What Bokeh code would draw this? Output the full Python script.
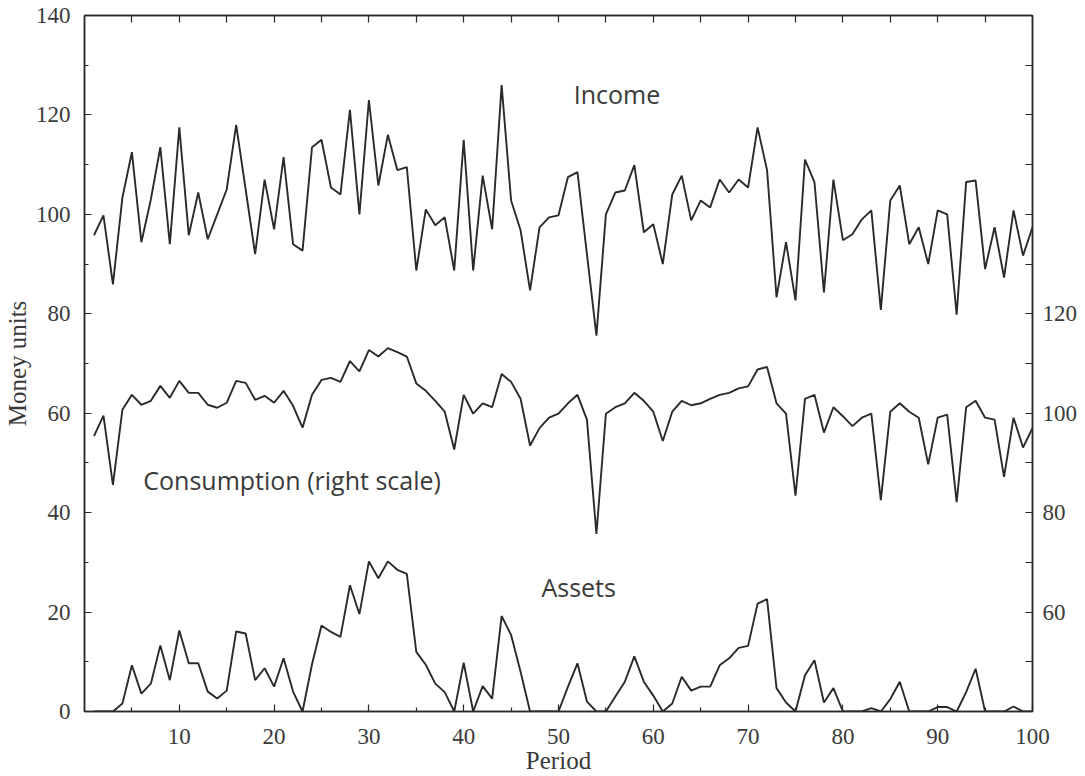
from bokeh.plotting import figure
from bokeh.models import Range1d, LinearAxis, FixedTicker, Label
from bokeh.embed import file_html
from bokeh.resources import INLINE

periods = list(range(1, 101))

income = [95.8, 99.8, 85.9, 103.4, 112.5, 94.4, 103.0, 113.5, 94.0, 117.5,
          95.8, 104.4, 95.0, 100.0, 105.0, 118.0, 105.0, 92.0, 107.0, 97.0,
          111.5, 94.0, 92.7, 113.5, 115.0, 105.4, 104.0, 121.0, 100.0, 123.0,
          105.8, 116.0, 108.9, 109.5, 88.7, 101.0, 97.8, 99.4, 88.7, 115.0,
          88.7, 107.8, 97.0, 126.0, 102.8, 96.8, 84.7, 97.4, 99.4, 99.8,
          107.5, 108.5, 92.0, 75.6, 100.0, 104.4, 104.8, 109.9, 96.4, 98.0,
          90.0, 104.0, 107.8, 98.8, 102.8, 101.4, 107.0, 104.4, 107.0, 105.4,
          117.5, 108.9, 83.3, 94.4, 82.7, 111.0, 106.5, 84.3, 107.0, 94.8,
          96.0, 99.0, 100.8, 80.8, 102.8, 105.8, 94.0, 97.4, 90.0, 100.8,
          100.0, 79.8, 106.5, 106.8, 89.0, 97.4, 87.3, 100.8, 91.7, 97.4]

# consumption on the right-hand scale
consumption = [95.4, 99.5, 85.6, 100.7, 103.7, 101.7, 102.5, 105.5, 103.1, 106.5,
               104.1, 104.1, 101.7, 101.1, 102.1, 106.5, 106.1, 102.7, 103.5, 102.1,
               104.5, 101.5, 97.1, 103.7, 106.7, 107.1, 106.3, 110.5, 108.4, 112.7,
               111.4, 113.1, 112.3, 111.4, 106.0, 104.5, 102.5, 100.3, 92.7, 103.7,
               99.9, 102.0, 101.2, 107.9, 106.3, 102.9, 93.5, 97.0, 99.1, 99.9,
               102.0, 103.7, 98.7, 75.7, 99.9, 101.2, 102.0, 104.1, 102.5, 100.3,
               94.4, 100.3, 102.5, 101.6, 102.0, 102.9, 103.7, 104.1, 105.0, 105.4,
               108.8, 109.3, 102.0, 99.9, 83.4, 102.9, 103.7, 96.1, 101.2, 99.4,
               97.4, 99.1, 99.9, 82.5, 100.3, 102.0, 100.3, 99.1, 89.7, 99.1,
               99.7, 82.1, 101.2, 102.5, 99.1, 98.7, 87.2, 99.1, 93.1, 97.0]

assets = [0, 0, 0, 1.6, 9.3, 3.6, 5.6, 13.3, 6.3, 16.3,
          9.7, 9.7, 4.0, 2.6, 4.2, 16.1, 15.7, 6.3, 8.7, 5.0,
          10.7, 4.0, 0, 9.5, 17.3, 16.0, 15.0, 25.4, 19.6, 30.2,
          26.8, 30.2, 28.5, 27.7, 12.0, 9.4, 5.6, 3.9, 0, 9.8,
          0, 5.1, 2.6, 19.2, 15.4, 8.0, 0, 0, 0, 0,
          5.0, 9.7, 2.0, 0, 0, 3.0, 6.0, 11.1, 6.0, 3.2,
          0, 1.6, 7.0, 4.2, 5.0, 5.0, 9.3, 10.7, 12.8, 13.2,
          21.7, 22.6, 4.7, 1.8, 0, 7.3, 10.3, 1.8, 4.7, 0,
          0, 0, 0.7, 0, 2.5, 6.0, 0, 0, 0, 0.9,
          0.9, 0, 3.9, 8.6, 0, 0, 0, 1.0, 0, 0]

x_ticks = [10, 20, 30, 40, 50, 60, 70, 80, 90, 100]
x_minor = [5, 15, 25, 35, 45, 55, 65, 75, 85, 95]
top_ticks = [5, 10, 15, 20, 25, 30, 35, 40, 45, 50, 55, 60, 65, 70, 75, 80, 85, 90, 95]
left_ticks = [0, 20, 40, 60, 80, 100, 120, 140]
left_minor = [10, 30, 50, 70, 90, 110, 130]
right_ticks = [50, 60, 70, 80, 90, 100, 110, 120, 130, 140, 150, 160, 170]
right_labels = [60, 80, 100, 120]

INK = "#2a2a2a"
TXT = "#3a3a3a"
SERIF = "Liberation Serif"

p = figure(frame_width=948, frame_height=696,
           x_range=Range1d(0, 100), y_range=Range1d(0, 140),
           output_backend="svg", toolbar_location=None,
           min_border_left=84, min_border_right=48,
           min_border_top=15, min_border_bottom=40)
p.extra_y_ranges = {"right": Range1d(40, 180)}
p.grid.visible = False
p.outline_line_color = INK
p.outline_line_width = 1.5
p.outline_line_alpha = 1.0


def style_axis(ax):
    ax.axis_line_color = INK
    ax.axis_line_width = 1.5
    ax.axis_line_alpha = 1.0
    ax.major_tick_line_color = INK
    ax.major_tick_line_width = 1.2
    ax.minor_tick_line_color = INK
    ax.minor_tick_line_width = 1.2
    ax.major_tick_in = 7
    ax.major_tick_out = 0
    ax.minor_tick_in = 4
    ax.minor_tick_out = 0
    ax.major_label_text_font = SERIF
    ax.major_label_text_font_size = "23px"
    ax.major_label_text_color = TXT
    ax.axis_label_text_font = SERIF
    ax.axis_label_text_font_style = "normal"
    ax.axis_label_text_font_size = "25px"
    ax.axis_label_text_color = TXT


xa = p.xaxis[0]
style_axis(xa)
xa.ticker = FixedTicker(ticks=x_ticks, minor_ticks=x_minor)
xa.axis_label = "Period"
xa.major_label_standoff = 17
xa.axis_label_standoff = 0

ya = p.yaxis[0]
style_axis(ya)
ya.ticker = FixedTicker(ticks=left_ticks, minor_ticks=left_minor)
ya.axis_label = "Money units"
ya.major_label_standoff = 14
ya.axis_label_standoff = 2

top = LinearAxis(ticker=FixedTicker(ticks=top_ticks, minor_ticks=[]))
style_axis(top)
top.major_label_overrides = {t: "" for t in top_ticks}
top.major_label_standoff = 0
p.add_layout(top, "above")

right = LinearAxis(y_range_name="right",
                   ticker=FixedTicker(ticks=right_ticks, minor_ticks=[]))
style_axis(right)
right.major_label_overrides = {t: ("" if t not in right_labels else str(t)) for t in right_ticks}
right.major_label_standoff = 10
p.add_layout(right, "right")

p.line(periods, income, line_color=INK, line_width=1.9)
p.line(periods, consumption, line_color=INK, line_width=1.9, y_range_name="right")
p.line(periods, assets, line_color=INK, line_width=1.9)

for txt, lx, ly in [("Income", 51.6, 124.3),
                    ("Consumption (right scale)", 6.2, 46.6),
                    ("Assets", 48.2, 25.0)]:
    p.add_layout(Label(x=lx, y=ly, text=txt, text_font="Open Sans",
                       text_font_size="25px", text_color=TXT,
                       text_align="left", text_baseline="middle"))

open("out.html", "w").write(file_html(p, INLINE))
